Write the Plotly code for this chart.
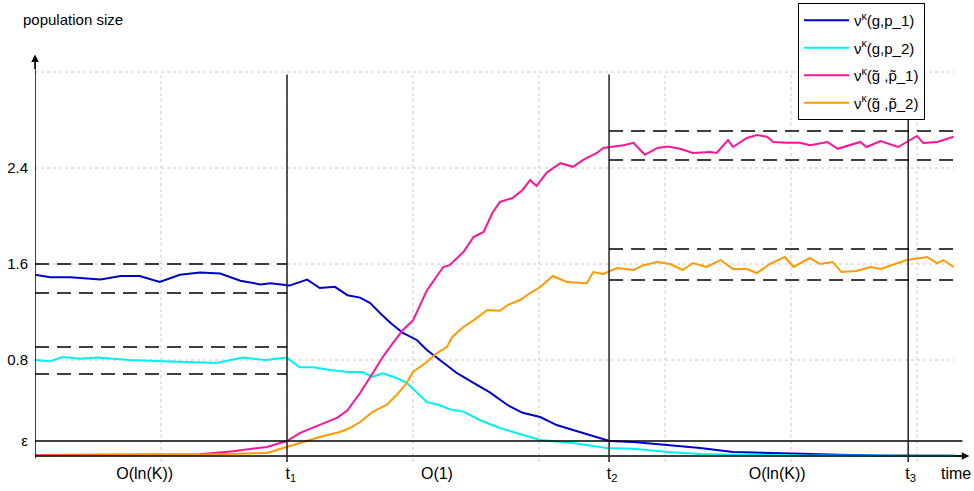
import plotly.graph_objects as go

# ---------------- data ----------------
t_blue = [0.0, 0.12, 0.28, 0.44, 0.52, 0.68, 0.83, 0.99, 1.15, 1.31, 1.47, 1.63, 1.79, 1.87, 2.0,
          2.02, 2.16, 2.26, 2.38, 2.48, 2.58, 2.66, 2.74, 2.82, 2.92, 3.03, 3.11, 3.19, 3.29, 3.35,
          3.48, 3.61, 3.75, 3.87, 4.01, 4.14, 4.27, 4.40, 4.56, 4.75, 5.02, 5.28, 5.54, 5.81, 6.07,
          6.39, 6.71, 7.30]
y_blue = [1.51, 1.49, 1.49, 1.48, 1.47, 1.50, 1.50, 1.45, 1.51, 1.53, 1.52, 1.46, 1.43, 1.44, 1.42,
          1.42, 1.47, 1.40, 1.41, 1.34, 1.32, 1.275, 1.19, 1.11, 1.025, 0.967, 0.883, 0.82, 0.74, 0.69,
          0.61, 0.53, 0.425, 0.36, 0.325, 0.258, 0.217, 0.175, 0.125, 0.117, 0.092, 0.067, 0.033, 0.025, 0.017,
          0.01, 0.005, 0.003]

t_cyan = [0.0, 0.12, 0.22, 0.36, 0.49, 0.63, 0.75, 1.02, 1.29, 1.44, 1.65, 1.83, 2.0, 2.10, 2.21,
          2.34, 2.48, 2.60, 2.68, 2.76, 2.87, 2.95, 3.03, 3.11, 3.21, 3.29, 3.40, 3.53, 3.69, 3.85,
          4.01, 4.27, 4.54, 4.75, 5.02, 5.28, 5.54, 6.07, 7.30]
y_cyan = [0.80, 0.79, 0.825, 0.81, 0.82, 0.81, 0.80, 0.79, 0.78, 0.775, 0.82, 0.80, 0.82, 0.74, 0.74,
          0.717, 0.70, 0.70, 0.66, 0.69, 0.65, 0.61, 0.53, 0.45, 0.425, 0.39, 0.37, 0.30, 0.233, 0.183,
          0.133, 0.108, 0.067, 0.06, 0.033, 0.017, 0.01, 0.005, 0.002]

t_pink = [0.0, 0.65, 1.31, 1.57, 1.84, 2.0, 2.10, 2.26, 2.40, 2.48, 2.58, 2.68, 2.76, 2.84, 2.92,
          3.00, 3.11, 3.24, 3.29, 3.40, 3.48, 3.56, 3.63, 3.69, 3.79, 3.87, 3.93, 3.98, 4.06, 4.17,
          4.27, 4.35, 4.46, 4.51, 4.56, 4.67, 4.75, 4.84, 4.94, 5.02, 5.12, 5.22, 5.36, 5.41, 5.50,
          5.54, 5.65, 5.73, 5.81, 5.86, 5.97, 6.07, 6.15, 6.29, 6.37, 6.55, 6.60, 6.71, 6.85, 6.92,
          7.00, 7.05, 7.16, 7.29]
y_pink = [0.008, 0.01, 0.015, 0.04, 0.075, 0.125, 0.19, 0.26, 0.32, 0.38, 0.525, 0.69, 0.825, 0.94, 1.05,
          1.13, 1.38, 1.575, 1.59, 1.70, 1.825, 1.867, 2.025, 2.117, 2.15, 2.217, 2.30, 2.25, 2.36, 2.44,
          2.41, 2.467, 2.525, 2.567, 2.575, 2.59, 2.61, 2.51, 2.567, 2.58, 2.56, 2.525, 2.533, 2.525, 2.633,
          2.575, 2.65, 2.675, 2.66, 2.617, 2.61, 2.61, 2.59, 2.617, 2.56, 2.617, 2.575, 2.625, 2.575, 2.617,
          2.667, 2.608, 2.617, 2.66]

t_orange = [0.0, 1.31, 1.84, 2.0, 2.10, 2.26, 2.42, 2.50, 2.58, 2.68, 2.79, 2.87, 2.95, 3.00, 3.11,
            3.19, 3.27, 3.31, 3.40, 3.48, 3.59, 3.69, 3.75, 3.85, 3.93, 4.01, 4.11, 4.22, 4.38, 4.43,
            4.51, 4.62, 4.75, 4.83, 4.94, 5.04, 5.14, 5.22, 5.33, 5.44, 5.54, 5.65, 5.73, 5.83, 5.95,
            6.02, 6.15, 6.23, 6.33, 6.40, 6.52, 6.63, 6.71, 6.81, 6.92, 7.08, 7.16, 7.21, 7.29]
y_orange = [0.005, 0.01, 0.025, 0.075, 0.108, 0.158, 0.20, 0.233, 0.283, 0.367, 0.425, 0.508, 0.608, 0.70, 0.783,
            0.858, 0.91, 0.99, 1.075, 1.13, 1.217, 1.21, 1.258, 1.30, 1.358, 1.408, 1.50, 1.45, 1.44, 1.533,
            1.517, 1.567, 1.55, 1.59, 1.617, 1.60, 1.55, 1.608, 1.575, 1.633, 1.558, 1.558, 1.525, 1.60, 1.658,
            1.575, 1.65, 1.60, 1.617, 1.533, 1.542, 1.575, 1.558, 1.592, 1.633, 1.658, 1.608, 1.633, 1.575]

series_names = ["ν<sup>κ</sup>(g,p_1)", "ν<sup>κ</sup>(g,p_2)",
                "ν<sup>κ</sup>(g\u0303 ,p\u0303_1)", "ν<sup>κ</sup>(g\u0303 ,p\u0303_2)"]

# phase boundaries and bands
t_marks = [2.0, 4.556, 6.93]
eps = 0.125
band_early = [1.358, 1.60, 0.683, 0.908]     # blue / cyan bands (t < t1)
band_late = [2.467, 2.708, 1.467, 1.725]     # pink / orange bands (t > t2)
t_end = 7.30

grid_t = [1, 2, 3, 4, 5, 6, 7]
grid_y = [0.8, 1.6, 2.4, 3.2]
y_tickvals = [eps, 0.8, 1.6, 2.4]
y_ticktext = ["ε", "0.8", "1.6", "2.4"]
x_tickvals = [0.87, 2.03, 3.19, 4.58, 5.89, 6.95, 7.31]
x_ticktext = ["O(ln(K))", "t<sub>1</sub>", "O(1)", "t<sub>2</sub>", "O(ln(K))", "t<sub>3</sub>", "time"]

colors = ["#0000CD", "#00F0F0", "#FF1493", "#FF9A00"]

# ---------------- figure ----------------
FONT = "Liberation Sans, Arial, sans-serif"
fig = go.Figure()
for i, (tx, ty) in enumerate([(t_blue, y_blue), (t_cyan, y_cyan), (t_pink, y_pink), (t_orange, y_orange)]):
    fig.add_trace(go.Scatter(x=tx, y=ty, mode="lines", name=series_names[i],
                             legendgroup=str(i),
                             line=dict(color=colors[i], width=2)))

shapes = []
grid_style = dict(color="#c8c8c8", width=1, dash="dot")
for gx in grid_t:
    shapes.append(dict(type="line", xref="x", yref="y", x0=gx, x1=gx, y0=-0.05, y1=grid_y[-1],
                       line=grid_style, layer="below"))
for gy in grid_y:
    shapes.append(dict(type="line", xref="x", yref="y", x0=0, x1=t_end, y0=gy, y1=gy,
                       line=grid_style, layer="below"))

black = dict(color="#000000", width=1.5)
# axes
shapes.append(dict(type="line", xref="x", yref="y", x0=0, x1=7.38, y0=0, y1=0, line=black))
shapes.append(dict(type="line", xref="x", yref="y", x0=0, x1=0, y0=-0.02, y1=3.30, line=black))
# epsilon threshold
shapes.append(dict(type="line", xref="x", yref="y", x0=0, x1=7.36, y0=eps, y1=eps,
                   line=dict(color="#000000", width=1.5)))
# phase lines
for tm in t_marks:
    shapes.append(dict(type="line", xref="x", yref="y", x0=tm, x1=tm, y0=-0.05, y1=3.18,
                       line=dict(color="#222222", width=1.5)))
dash_style = dict(color="#000000", width=1.5, dash="14px,8px")
for by in band_early:
    shapes.append(dict(type="line", xref="x", yref="y", x0=0, x1=t_marks[0], y0=by, y1=by, line=dash_style))
for by in band_late:
    shapes.append(dict(type="line", xref="x", yref="y", x0=t_marks[1], x1=t_end, y0=by, y1=by, line=dash_style))

annotations = [
    dict(x=0, y=3.345, xref="x", yref="y", ax=0, ay=16, axref="pixel", ayref="pixel",
         showarrow=True, arrowhead=2, arrowsize=1, arrowwidth=1.5, arrowcolor="#000", text=""),
    dict(x=7.415, y=0, xref="x", yref="y", ax=-16, ay=0, axref="pixel", ayref="pixel",
         showarrow=True, arrowhead=2, arrowsize=1, arrowwidth=1.5, arrowcolor="#000", text=""),
    dict(x=-0.015, y=1.06, xref="paper", yref="paper", text="population size", showarrow=False,
         xanchor="left", yanchor="middle", font=dict(size=15, color="#000", family=FONT)),
]

fig.update_layout(
    width=974, height=491,
    margin=dict(l=35, r=2, t=45, b=29, autoexpand=False),
    paper_bgcolor="white", plot_bgcolor="white",
    font=dict(family=FONT, color="#000"),
    shapes=shapes, annotations=annotations,
    showlegend=True,
    legend=dict(x=0.8143, y=1.1007, xanchor="left", yanchor="top",
                bgcolor="white", bordercolor="#000", borderwidth=1, itemwidth=45,
                font=dict(size=15, family=FONT, color="#000"), tracegroupgap=5),
    xaxis=dict(range=[0, 937 / 126], showgrid=False, zeroline=False, showline=False,
               automargin=False,
               tickvals=x_tickvals, ticktext=x_ticktext, ticks="",
               tickfont=dict(size=16, family=FONT, color="#000")),
    yaxis=dict(range=[-0.05, 3.425], showgrid=False, zeroline=False, showline=False,
               automargin=False, ticklabelstandoff=6,
               tickvals=y_tickvals, ticktext=y_ticktext, ticks="",
               tickfont=dict(size=15, family=FONT, color="#000")),
)

# remove the page's default body margin so the figure fills the window exactly
fig.write_html("out.html", config={"displayModeBar": False},
               post_script="document.body.style.margin='0';document.body.style.overflow='hidden';")
